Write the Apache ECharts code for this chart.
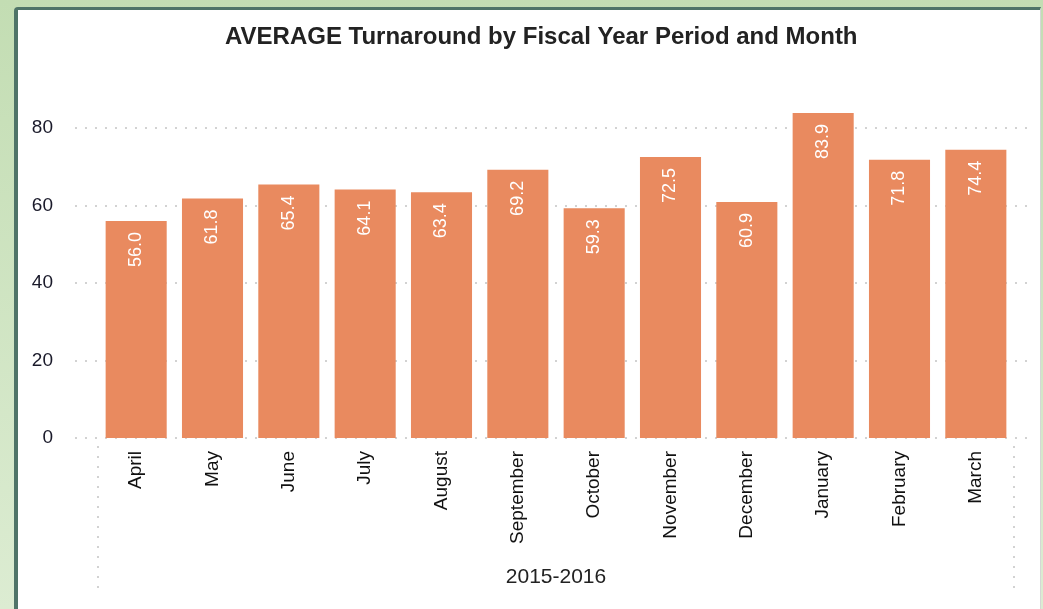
<!DOCTYPE html>
<html>
<head>
<meta charset="utf-8">
<title>AVERAGE Turnaround</title>
<script src="https://cdn.jsdelivr.net/npm/echarts@6/dist/echarts.min.js"></script>
<style>
  html, body { margin: 0; padding: 0; }
  body {
    width: 1043px; height: 609px; overflow: hidden;
    background: linear-gradient(#c3ddb3, #dcecd2);
    position: relative;
  }
  #panel {
    position: absolute; left: 14px; top: 7px; width: 1022px; height: 620px;
    background: #fff;
    border-left: 4px solid #4f7468;
    border-top: 3px solid #4f7468;
    border-right: 1px solid #d6d6d6;
    border-top-left-radius: 4px;
  }
  #chart { position: absolute; left: 0; top: 0; width: 1043px; height: 609px; }
</style>
</head>
<body>
<div id="panel"></div>
<div id="chart"></div>
<script>
// months of the fiscal year
var months = ['April', 'May', 'June', 'July', 'August', 'September', 'October',
	'November', 'December', 'January', 'February', 'March'];
// average turnaround per month
var turnaround = [56.0, 61.8, 65.4, 64.1, 63.4, 69.2, 59.3, 72.5, 60.9, 83.9, 71.8, 74.4];
// y axis ticks
var yTicks = [0, 20, 40, 60, 80];
var periodName = '2015-2016';

var barLeft = 98, barRight = 29, gridBottom = 171, gridTop = 128;

var myChart = echarts.init(document.getElementById('chart'));
var option = {
	animation: false,
	textStyle: { fontFamily: 'Liberation Sans, Arial, sans-serif' },
	title: {
		text: 'AVERAGE Turnaround by Fiscal Year Period and Month',
		left: 220,
		top: 20,
		textStyle: { fontSize: 24, fontWeight: 'bold', color: '#222' }
	},
	grid: [
		{ left: 75, right: 13, top: gridTop, bottom: gridBottom },
		{ left: barLeft, right: barRight, top: gridTop, bottom: gridBottom }
	],
	xAxis: [
		{ gridIndex: 0, type: 'category', data: months, show: false },
		{
			gridIndex: 1,
			type: 'category',
			data: months,
			axisLine: { show: false },
			axisTick: { show: false },
			axisLabel: { rotate: 90, fontSize: 19, color: '#111', margin: 13 },
			name: periodName,
			nameLocation: 'middle',
			nameGap: 129,
			nameTextStyle: { fontSize: 21, color: '#222' }
		}
	],
	yAxis: [
		{
			gridIndex: 0,
			type: 'value',
			min: yTicks[0],
			max: yTicks[yTicks.length - 1],
			interval: yTicks[1] - yTicks[0],
			axisLine: { show: false },
			axisTick: { show: false },
			axisLabel: { fontSize: 19, color: '#1a1a2a', margin: 22 },
			splitLine: { lineStyle: { color: '#c4c4c4', width: 1.5, type: [2, 8] } }
		},
		{
			gridIndex: 1,
			type: 'value',
			min: yTicks[0],
			max: yTicks[yTicks.length - 1],
			show: false,
			splitLine: { show: false }
		}
	],
	series: [{
		type: 'bar',
		xAxisIndex: 1,
		yAxisIndex: 1,
		data: turnaround,
		clip: false,
		barCategoryGap: '20%',
		itemStyle: { color: '#e98a5f' },
		label: {
			show: true,
			position: 'insideTop',
			rotate: 90,
			align: 'right',
			verticalAlign: 'middle',
			distance: 11,
			color: '#fff',
			fontSize: 18,
			formatter: function (p) { return p.value.toFixed(1); }
		}
	}]
};
myChart.setOption(option);

// dotted frame lines at both ends of the category labels
var xl = barLeft, xr = 1043 - barRight, y0 = 609 - gridBottom;
myChart.setOption({
	graphic: [xl, xr].map(function (x) {
		return {
			type: 'line',
			shape: { x1: x, y1: y0 + 8, x2: x, y2: 594 },
			style: { stroke: '#c4c4c4', lineWidth: 1.5, lineDash: [2, 8] }
		};
	})
});
</script>
</body>
</html>
